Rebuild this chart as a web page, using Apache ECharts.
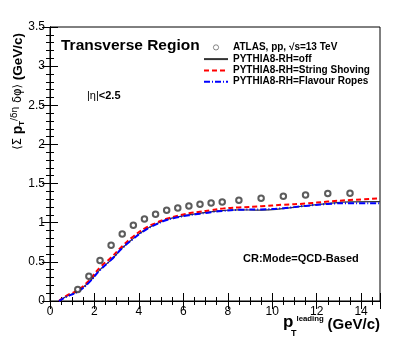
<!DOCTYPE html>
<html><head><meta charset="utf-8">
<script src="https://cdn.jsdelivr.net/npm/echarts@6/dist/echarts.min.js"></script>
<style>html,body{margin:0;padding:0;background:#fff}#c{width:415px;height:344px}</style>
</head><body><div id="c"></div>
<script>
const atlasX = [1.25,1.75,2.25,2.75,3.25,3.75,4.25,4.75,5.25,5.75,6.25,6.75,7.25,7.75,8.5,9.5,10.5,11.5,12.5,13.5];
const atlasY = [0.146,0.315,0.516,0.711,0.856,0.967,1.047,1.107,1.158,1.188,1.214,1.235,1.252,1.265,1.286,1.312,1.337,1.354,1.372,1.375];
const mcX = [0.4,0.75,1.25,1.75,2.25,2.75,3.25,3.75,4.25,4.75,5.25,5.75,6.25,6.75,7.25,7.75,8.5,9.5,10.5,11.5,12.5,13.5,14.85];
const offY = [0,0.06,0.125,0.24,0.40,0.525,0.675,0.80,0.905,0.98,1.04,1.075,1.10,1.12,1.14,1.155,1.165,1.16,1.18,1.215,1.245,1.265,1.27];
const ropesY = [0,0.055,0.12,0.235,0.395,0.525,0.675,0.795,0.90,0.975,1.035,1.07,1.095,1.115,1.135,1.15,1.165,1.17,1.185,1.215,1.24,1.25,1.25];
const shovingY = [0,0.07,0.14,0.26,0.43,0.555,0.70,0.825,0.925,0.995,1.05,1.09,1.12,1.14,1.16,1.18,1.195,1.21,1.23,1.245,1.27,1.29,1.31];
const names = ['ATLAS, pp, \u221As=13 TeV','PYTHIA8-RH=off','PYTHIA8-RH=String Shoving','PYTHIA8-RH=Flavour Ropes'];
const pair = (xs, ys) => xs.map((x, i) => [x, ys[i]]);
const F = 'Liberation Sans, Arial, Helvetica, sans-serif';
const chart = echarts.init(document.getElementById('c'), null, {renderer: 'canvas'});
const tickCommon = {show: true, inside: true, length: 8, lineStyle: {color: '#000', width: 1}};
const minorCommon = {show: true, length: 4, lineStyle: {color: '#000', width: 1}};
const hideSym = {opacity: 0};
chart.setOption({
  animation: false,
  backgroundColor: '#fff',
  grid: {left: 50, right: 35, top: 27, bottom: 43, show: true, borderColor: '#000', borderWidth: 1, containLabel: false},
  xAxis: [
    {type: 'value', min: 0, max: 14.85, interval: 2, position: 'bottom',
     axisLine: {lineStyle: {color: '#000'}}, axisTick: tickCommon,
     minorTick: Object.assign({splitNumber: 4}, minorCommon),
     splitLine: {show: false},
     axisLabel: {color: '#000', fontSize: 12, fontFamily: F, margin: 5, showMaxLabel: false}},
    {type: 'value', min: 0, max: 14.85, interval: 2, position: 'top',
     axisLine: {lineStyle: {color: '#000'}}, axisTick: tickCommon,
     minorTick: Object.assign({splitNumber: 4}, minorCommon),
     splitLine: {show: false}, axisLabel: {show: false}}
  ],
  yAxis: [
    {type: 'value', min: 0, max: 3.5, interval: 0.5, position: 'left',
     axisLine: {show: true, lineStyle: {color: '#000'}}, axisTick: tickCommon,
     minorTick: Object.assign({splitNumber: 5}, minorCommon),
     splitLine: {show: false},
     axisLabel: {color: '#000', fontSize: 12, fontFamily: F, margin: 5}},
    {type: 'value', min: 0, max: 3.5, interval: 0.5, position: 'right',
     axisLine: {show: true, lineStyle: {color: '#000'}}, axisTick: tickCommon,
     minorTick: Object.assign({splitNumber: 5}, minorCommon),
     splitLine: {show: false}, axisLabel: {show: false}}
  ],
  legend: {
    orient: 'vertical', left: 198, top: 37, itemWidth: 24, itemHeight: 10, itemGap: 1.3,
    textStyle: {fontFamily: F, fontSize: 10, fontWeight: 'bold', color: '#000'},
    data: [
      {name: names[0], icon: 'path://M0,0L0,0M10,10L10,10M7.6,5A2.6,2.6,0,1,1,2.4,5A2.6,2.6,0,1,1,7.6,5Z',
       itemStyle: {color: 'rgba(0,0,0,0)', borderColor: '#444', borderWidth: 0.8}},
      {name: names[1], itemStyle: hideSym},
      {name: names[2], itemStyle: hideSym},
      {name: names[3], itemStyle: hideSym}
    ]
  },
  series: [
    {name: names[0], type: 'scatter', data: pair(atlasX, atlasY), symbol: 'emptyCircle', symbolSize: 5.5,
     itemStyle: {color: '#333', borderWidth: 0.8}, z: 6},
    {name: names[1], type: 'line', data: pair(mcX, offY), smooth: true, showSymbol: false, symbol: 'none',
     lineStyle: {color: '#333', width: 1.2}, itemStyle: {color: '#333'}, z: 3},
    {name: names[2], type: 'line', data: pair(mcX, shovingY), smooth: true, showSymbol: false, symbol: 'none',
     lineStyle: {color: '#ff0000', width: 2, type: [5, 3]}, itemStyle: {color: '#ff0000'}, z: 4},
    {name: names[3], type: 'line', data: pair(mcX, ropesY), smooth: true, showSymbol: false, symbol: 'none',
     lineStyle: {color: '#0000ff', width: 2, type: [6, 2, 1, 2]}, itemStyle: {color: '#0000ff'}, z: 5}
  ],
  graphic: [
    {type: 'text', left: 61, top: 38, style: {text: 'Transverse Region', font: 'bold 15.5px ' + F, fill: '#000'}},
    {type: 'text', left: 87, top: 90, style: {text: '{n||\u03B7|}{b|<2.5}', rich: {n: {font: '11px ' + F, fill: '#000'}, b: {font: 'bold 11px ' + F, fill: '#000'}}}},
    {type: 'text', left: 243, top: 253, style: {text: 'CR:Mode=QCD-Based', font: 'bold 11px ' + F, fill: '#000'}},
    {type: 'text', x: 18, y: 33, rotation: Math.PI / 2,
     style: {text: '{a|\u27E8\u03A3 }{p|p}{s|T}{m|/\u03B4\u03B7}{a| \u03B4\u03C6\u27E9 }{q|(GeV/c)}', align: 'right', verticalAlign: 'middle',
       rich: {a: {font: '11.5px DejaVu Sans, ' + F, fill: '#000'}, p: {font: 'bold 14px ' + F, fill: '#000'},
              s: {font: 'bold 8px ' + F, fill: '#000', verticalAlign: 'bottom', padding: [7, 0, 0, 0]},
              m: {font: '9px DejaVu Sans, ' + F, fill: '#000', verticalAlign: 'top', padding: [0, 0, 4, 0]},
              q: {font: 'bold 13.5px ' + F, fill: '#000'}}}},
    {type: 'text', x: 283, y: 314, style: {text: 'p', font: 'bold 17px ' + F, fill: '#000', align: 'left', verticalAlign: 'top'}},
    {type: 'text', x: 291, y: 334, style: {text: 'T', font: 'bold 9px ' + F, fill: '#000', align: 'left', verticalAlign: 'middle'}},
    {type: 'text', x: 296.5, y: 319, style: {text: 'leading', font: 'bold 7.8px ' + F, fill: '#000', align: 'left', verticalAlign: 'middle'}},
    {type: 'text', x: 380, y: 325, style: {text: '(GeV/c)', font: 'bold 15px ' + F, fill: '#000', align: 'right', verticalAlign: 'middle'}}
  ]
});
</script></body></html>
